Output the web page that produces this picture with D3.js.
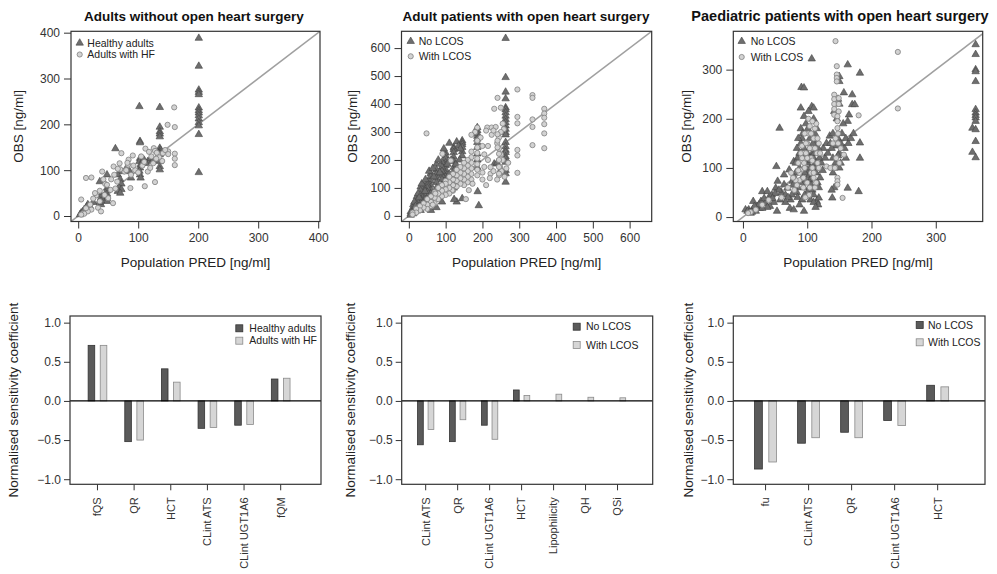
<!DOCTYPE html>
<html>
<head>
<meta charset="utf-8">
<script src="https://cdn.jsdelivr.net/npm/d3@7"></script>
<style>
    body { margin: 0; background: #fff; }
    svg { font-family: "Liberation Sans", Arial, sans-serif; }
</style>
</head>
<body>
<svg width="997" height="574"></svg>
<script>
// ---- scatter data [PRED, OBS]
const healthyAdults = [
    [201,388],[201,327],[201,275],[201,270],[201,265],[201,236],[201,230],[201,225],[201,219],[201,212],[201,204],[201,197],[201,178],[201,95],
    [102,239],[103,163],[103,160],[103,126],[102,119],[104,112],[103,105],[102,98],[103,90],[104,83],
    [136,237],[136,194],[136,184],[136,179],[136,173],[136,148],[137,144],[136,140],[135,137],[136,134],[136,119],[136,108],[136,101],
    [62,147],[116,119],[121,126],[125,122],[110,122],[113,115],[88,83],
    [72,97],[80,104],[86,97],[66,90],[70,80],[72,70],[68,62],[72,58],[66,54],[70,50],
    [48,90],[36,75],[48,61],[48,55],[48,48],[48,42],[48,38],[48,32],
    [38,46],[38,40],[38,33],[38,25],[36,30],
    [16,25],[14,20],[10,14],[5,7],[3,3],[8,10],[20,20],[25,30]
];
const adultsHF = [
    [160,237],[149,199],[161,194],[161,136],[161,125],[161,111],[150,141],[141,137],[133,134],[126,148],[122,130],[112,147],
    [118,140],[128,142],[131,138],[145,144],[107,110],[116,97],[128,74],[111,65],[87,61],[91,132],[84,123],[83,112],
    [69,115],[77,97],[72,137],[59,108],[40,97],[13,83],[22,84],[54,57],[58,28],[50,39],[44,46],[36,32],[33,18],[22,14],
    [5,36],[8,6],[16,10],[13,17],[38,10],[62,60],[65,75],[70,102],[95,100],[100,95],[105,130],[110,118],[88,90],[92,110],
    [80,100],[60,90],[55,80],[45,70],[30,45],[25,38],[20,25],[10,5],[5,3],[125,115],[120,105],[135,128],[140,120],
    [150,135],[130,125],[82,116],[66,103],[48,68],[42,80],[36,55],[28,50]
];
const adultNoLCOS = [
    [263,635],[263,495],[263,443],[263,419],[263,387],[263,380],[263,369],[263,357],[263,345],[263,334],[263,322],[263,310],
    [263,298],[263,290],[263,263],[263,248],[263,235],[263,227],[263,212],[263,204],[263,192],[263,163],[263,151],[263,121],
    [186,316],[186,305],[186,295],[186,285],[186,275],[186,263],[186,245],[186,222],[186,200],[186,174],[187,87],[190,37],
    [145,269],[145,262],[145,255],[145,245],[145,230],[145,215],[145,62],[130,50],[123,59],[232,186],[240,190],[250,165],
    [122,245],[122,238],[122,227],[122,210],[122,195],[122,174],[122,160],[122,145],[122,120],[122,100],
    [100,225],[100,215],[100,205],[100,190],[100,180],[100,165],[100,150],[100,140],[100,120],
    [90,192],[90,175],[90,160],[90,145],[90,130],[90,110],
    [75,185],[75,165],[75,150],[75,135],[75,120],[75,100],[75,80],
    [59,151],[59,140],[59,125],[59,110],[59,95],[59,80],[59,60],
    [50,121],[50,110],[50,100],[50,85],[50,70],[50,55],[50,40],
    [40,105],[40,95],[40,80],[40,65],[40,50],[40,35],
    [32,104],[32,90],[32,75],[32,60],[32,45],[32,30],[32,20],
    [22,70],[22,55],[22,40],[22,28],[22,18],[12,40],[12,30],[12,20],[12,12],[12,8],[5,15],[5,8],[5,3],
    [60,20],[75,30],[90,50],[15,50],[25,80],[35,115],[45,130],[55,160],[65,170],[80,200],[95,240],[110,260],[130,265],
    [135,250],[140,240],[115,200],[105,185],[68,140],[84,155],[28,65],[18,35],[44,88],[110,150],[128,185],[138,200]
];
const adultWithLCOS = [
    [48,295],[295,452],[336,432],[336,422],[368,383],[368,366],[368,351],[368,328],[368,295],[368,242],[336,345],[336,318],
    [336,253],[295,354],[295,331],[295,236],[295,216],[295,154],[241,422],[232,383],[250,387],[255,330],[258,310],[250,300],
    [245,280],[240,260],[245,240],[250,220],[255,200],[248,175],[252,160],[245,145],[240,130],
    [186,316],[213,316],[225,316],[236,318],[241,292],[241,269],[241,245],[245,222],[245,200],[245,175],[245,151],[222,174],
    [222,151],[215,200],[205,220],[200,250],[195,280],[180,300],[170,290],
    [186,269],[186,245],[186,225],[186,205],[186,185],[186,165],[186,145],[170,230],[170,210],[170,190],[170,170],[170,150],
    [170,130],[160,200],[160,180],[160,160],[160,140],[160,120],[150,190],[150,170],[150,150],[150,130],[150,110],[140,175],
    [140,155],[140,135],[140,115],[130,165],[130,145],[130,125],[130,105],[120,150],[120,130],[120,110],[120,90],[118,92],
    [110,140],[110,120],[110,100],[110,80],[100,125],[100,115],[100,95],[100,75],[91,222],[90,110],[90,90],[90,70],[80,100],
    [80,80],[80,60],[70,85],[70,65],[70,45],[60,70],[60,50],[60,35],[50,60],[50,40],[50,25],[40,45],[40,30],[30,35],[30,20],
    [20,25],[20,12],[10,12],[10,5],[114,198],[163,92],[173,115],[200,130],[210,110],[220,135],[230,160],[260,140],[265,170],
    [270,190],[200,155],[205,175],[215,250],[225,290],[230,305],[210,305],[155,60],[65,40],[72,80]
];
const paedNoLCOS = [
    [362,351],[362,331],[362,300],[362,296],[362,276],[362,219],[362,212],[362,207],[362,202],[362,195],[357,181],[362,178],
    [362,154],[357,132],[362,121],
    [107,322],[163,310],[182,293],[150,286],[150,276],[91,264],[95,263],[90,222],[107,225],[110,222],[157,253],[170,249],
    [170,229],[174,229],[57,181],[165,208],[163,195],[182,151],[182,120],[180,52],[163,59],[139,39],[53,12],[73,18],[79,15],
    [95,12],[115,32],[117,25],[118,39],
    [4,15],[9,15],[15,15],[16,32],[26,18],[28,32],[30,52],[38,52],[40,39],[51,59],[52,103],[54,73],[64,86],[64,66],[69,59],
    [72,96],[77,73],[79,113],
    [85,120],[88,100],[90,180],[92,160],[95,140],[97,125],[100,110],[100,95],[102,85],[104,75],[106,65],[108,55],[110,45],
    [110,200],[112,170],[114,150],[108,130],[105,115],[96,90],[92,80],[90,70],[86,60],[84,50],[82,90],[80,80],[98,190],
    [102,215],[95,205],[104,160],[106,140],[110,120],[112,100],[114,90],[116,70],[118,60],[120,80],[122,110],[125,140],
    [130,150],[135,165],[140,120],[142,100],[145,145],[148,160],[150,130],[152,110],[138,140],[140,170],[146,200],[142,215],
    [150,230],[148,240],[60,50],[66,45],[45,45],[48,30],[35,28],[22,22],[10,10],[7,12],[12,8],[20,12],[25,25],
    [85,40],[88,130],[90,150],[93,170],[95,60],[98,75],[100,130],[101,180],[103,120],[105,100],[107,80],[109,150],[111,130],
    [113,110],[115,180],[117,140],[119,120],[100,50],[96,45],[92,35],[88,25],[105,35],[110,30],[113,20],[82,110],[84,140],
    [86,160],[78,65],[76,45],[74,35],[70,40],[66,30],[58,35],[56,55],[50,48],[46,38],[42,22],[38,20],[33,38],[30,18],
    [18,22],[14,10],[124,95],[128,120],[132,130],[136,150],[140,90],[144,110],[148,125],[150,100],[152,150],[154,170],
    [156,190],[158,140],[160,160],[160,120],[164,150],[168,160],[172,170],[142,60],[138,55]
];
const paedWithLCOS = [
    [144,358],[241,336],[241,221],[146,307],[146,290],[146,283],[146,276],[142,249],[142,240],[142,230],[142,220],[142,208],
    [149,242],[149,230],[149,215],[147,205],[147,195],[147,181],[180,207],[157,127],[155,39],[147,80],[147,73],[147,66],
    [130,103],[136,100],[140,150],[144,160],[148,170],
    [90,95],[95,110],[98,130],[100,150],[102,170],[104,185],[106,120],[108,100],[110,80],[112,60],[100,70],[94,60],[88,75],
    [86,110],[108,140],[110,160],[112,180],[114,190],[115,130],[116,110],[96,170],[92,145],[84,65],[118,150],[106,90],
    [103,45],[97,40],[12,10],[8,8],[20,15],[30,25],[40,35],[70,60],[75,90],[80,55],[60,40],
    [88,90],[92,120],[96,100],[100,120],[104,140],[104,60],[106,170],[108,115],[110,90],[112,140],[114,70],[116,160],
    [118,100],[120,130],[98,150],[94,80],[90,130],[86,95],[82,75],[78,80],[102,200],[108,195],[150,110],[152,140],
    [148,150],[145,120],[143,100]
];

// ---- sensitivity data
const adultParams = ['fQS', 'QR', 'HCT', 'CLint ATS', 'CLint UGT1A6', 'fQM'];
const healthySens = [0.71, -0.52, 0.41, -0.35, -0.31, 0.28];
const hfSens = [0.71, -0.50, 0.24, -0.34, -0.30, 0.29];
const surgeryParams = ['CLint ATS', 'QR', 'CLint UGT1A6', 'HCT', 'Lipophilicity', 'QH', 'QSi'];
const surgeryNoLCOSSens = [-0.56, -0.52, -0.31, 0.14, 0, 0, 0];
const surgeryWithLCOSSens = [-0.365, -0.24, -0.49, 0.07, 0.086, 0.047, 0.04];
const paedParams = ['fu', 'CLint ATS', 'QR', 'CLint UGT1A6', 'HCT'];
const paedNoLCOSSens = [-0.87, -0.54, -0.40, -0.25, 0.20];
const paedWithLCOSSens = [-0.78, -0.47, -0.47, -0.315, 0.18];

const scatterTicks = [[0, 100, 200, 300, 400], [0, 100, 200, 300, 400, 500, 600], [0, 100, 200, 300]];
const sensTicks = [-1, -0.5, 0, 0.5, 1];

const svg = d3.select('svg');
const dark = '#5a5a5a', light = '#d6d6d6';

function styleAxis(sel) {
    sel.select('.domain').remove();
    sel.selectAll('.tick line').attr('stroke', '#333');
    sel.selectAll('.tick text').attr('fill', '#333').style('font-size', '12px');
}

function scatterPanel(p) {
    const [x0, x1, y0, y1] = p.box;
    const x = d3.scaleLinear().domain(p.xDom).range([x0, x1]);
    const y = d3.scaleLinear().domain(p.yDom).range([y1, y0]);
    const g = svg.append('g');

    g.append('clipPath').attr('id', 'clip' + p.key)
        .append('rect').attr('x', x0).attr('y', y0).attr('width', x1 - x0).attr('height', y1 - y0);

    const lo = Math.min(p.xDom[0], p.yDom[0]), hi = Math.max(p.xDom[1], p.yDom[1]);
    g.append('line')
        .attr('clip-path', `url(#clip${p.key})`)
        .attr('x1', x(lo)).attr('y1', y(lo)).attr('x2', x(hi)).attr('y2', y(hi))
        .attr('stroke', '#a0a0a0').attr('stroke-width', 1.5);

    const tri = d3.symbol(d3.symbolTriangle, 24);
    g.append('g').selectAll('path').data(p.tri).join('path')
        .attr('transform', d => `translate(${x(d[0])},${y(d[1])})`)
        .attr('d', tri)
        .attr('fill', '#6e6e6e').attr('stroke', '#444').attr('stroke-width', 0.6);
    g.append('g').selectAll('circle').data(p.circ).join('circle')
        .attr('cx', d => x(d[0])).attr('cy', d => y(d[1])).attr('r', 2.6)
        .attr('fill', '#d2d2d2').attr('stroke', '#808080').attr('stroke-width', 0.8);

    g.append('g').attr('transform', `translate(0,${y1})`)
        .call(d3.axisBottom(x).tickValues(p.ticks).tickSize(7).tickPadding(5).tickFormat(d3.format('d')))
        .call(styleAxis);
    g.append('g').attr('transform', `translate(${x0},0)`)
        .call(d3.axisLeft(y).tickValues(p.ticks).tickSize(7).tickPadding(4).tickFormat(d3.format('d')))
        .call(styleAxis);

    g.append('rect').attr('x', x0).attr('y', y0).attr('width', x1 - x0).attr('height', y1 - y0)
        .attr('fill', 'none').attr('stroke', '#333').attr('stroke-width', 1.2);

    g.append('text').attr('x', p.titleX).attr('y', 20.5).attr('text-anchor', 'middle')
        .style('font-size', p.titleSize).style('font-weight', 'bold').attr('fill', '#111').text(p.title);
    g.append('text').attr('x', (x0 + x1) / 2).attr('y', 267).attr('text-anchor', 'middle')
        .style('font-size', '13.5px').attr('fill', '#222').text('Population PRED [ng/ml]');
    g.append('text').attr('transform', `translate(${p.yLabX},${(y0 + y1) / 2}) rotate(-90)`)
        .attr('text-anchor', 'middle').attr('dy', '0.35em')
        .style('font-size', '13.5px').attr('fill', '#222').text('OBS [ng/ml]');

    const leg = g.append('g').style('font-size', '10.5px').attr('fill', '#222');
    leg.append('path').attr('transform', `translate(${p.leg[0]},${p.leg[1]})`).attr('d', tri)
        .attr('fill', '#6e6e6e').attr('stroke', '#444').attr('stroke-width', 0.6);
    leg.append('circle').attr('cx', p.leg[0]).attr('cy', p.leg[2]).attr('r', 2.6)
        .attr('fill', '#d2d2d2').attr('stroke', '#808080').attr('stroke-width', 0.8);
    leg.append('text').attr('x', p.leg[3]).attr('y', p.leg[1]).attr('dy', '0.35em').text(p.labels[0]);
    leg.append('text').attr('x', p.leg[3]).attr('y', p.leg[2]).attr('dy', '0.35em').text(p.labels[1]);
}

function barPanel(p) {
    const [x0, x1, y0, y1] = p.box;
    const n = p.cats.length;
    const step = (x1 - x0) / (n + 0.85);
    const x = d3.scaleBand().domain(p.cats).range([x0 + 0.25 * step, x0 + (n + 0.25) * step]);
    const inner = d3.scaleBand().domain([0, 1]).range([-0.255 * step, 0.255 * step]).paddingInner(0.4545);
    const y = d3.scaleLinear().domain([-1.065, 1.085]).range([y1, y0]);
    const g = svg.append('g');

    const rows = p.cats.flatMap((c, i) => [
        { cat: c, s: 0, v: p.a[i] },
        { cat: c, s: 1, v: p.b[i] }
    ]);
    g.append('g').selectAll('rect').data(rows).join('rect')
        .attr('x', d => x(d.cat) + x.bandwidth() / 2 + inner(d.s))
        .attr('width', inner.bandwidth())
        .attr('y', d => y(Math.max(0, d.v)))
        .attr('height', d => Math.abs(y(d.v) - y(0)))
        .attr('fill', d => d.s ? light : dark)
        .attr('stroke', d => d.s ? '#8a8a8a' : '#333').attr('stroke-width', 0.8);

    g.append('line').attr('x1', x0).attr('x2', x1).attr('y1', y(0)).attr('y2', y(0))
        .attr('stroke', '#000').attr('stroke-width', 1.3);

    g.append('g').attr('transform', `translate(${x0},0)`)
        .call(d3.axisLeft(y).tickValues(sensTicks).tickSize(6).tickPadding(3).tickFormat(d3.format('.1f')))
        .call(styleAxis);
    g.append('g').attr('transform', `translate(0,${y1})`)
        .call(d3.axisBottom(x).tickSize(6))
        .call(styleAxis)
        .selectAll('.tick text')
        .attr('transform', 'rotate(-90)')
        .attr('text-anchor', 'end')
        .attr('x', -13).attr('y', 0).attr('dy', '0.35em')
        .style('font-size', '11px');

    g.append('rect').attr('x', x0).attr('y', y0).attr('width', x1 - x0).attr('height', y1 - y0)
        .attr('fill', 'none').attr('stroke', '#333').attr('stroke-width', 1.2);

    g.append('text').attr('transform', `translate(${p.yLabX},${(y0 + y1) / 2}) rotate(-90)`)
        .attr('text-anchor', 'middle').attr('dy', '0.35em')
        .style('font-size', '13.5px').attr('fill', '#222').text('Normalised sensitivity coefficient');

    const leg = g.append('g').style('font-size', '10.5px').attr('fill', '#222');
    [p.leg[1], p.leg[2]].forEach((ly, i) => {
        leg.append('rect').attr('x', p.leg[0] - 3.5).attr('y', ly - 3.5).attr('width', 7).attr('height', 7)
            .attr('fill', i ? light : dark).attr('stroke', i ? '#8a8a8a' : '#333').attr('stroke-width', 0.8);
        leg.append('text').attr('x', p.leg[3]).attr('y', ly).attr('dy', '0.35em').text(p.labels[i]);
    });
}

scatterPanel({
    key: 1, box: [71, 320, 31.3, 221.5], xDom: [-12, 403], yDom: [-12, 403], ticks: scatterTicks[0],
    tri: healthyAdults, circ: adultsHF, title: 'Adults without open heart surgery', titleX: 194, titleSize: '13.5px',
    labels: ['Healthy adults', 'Adults with HF'], leg: [79.7, 43, 54.5, 87.3], yLabX: 18
});
scatterPanel({
    key: 2, box: [401.5, 651.7, 31.3, 221.5], xDom: [-20, 660], yDom: [-20, 660], ticks: scatterTicks[1],
    tri: adultNoLCOS, circ: adultWithLCOS, title: 'Adult patients with open heart surgery', titleX: 526, titleSize: '13.5px',
    labels: ['No LCOS', 'With LCOS'], leg: [410.7, 41.3, 56.3, 418.7], yLabX: 352
});
scatterPanel({
    key: 3, box: [733.3, 982.7, 31.3, 221.5], xDom: [-15, 373], yDom: [-9, 378], ticks: scatterTicks[2],
    tri: paedNoLCOS, circ: paedWithLCOS, title: 'Paediatric patients with open heart surgery', titleX: 840, titleSize: '14.5px',
    labels: ['No LCOS', 'With LCOS'], leg: [741.7, 41.3, 57, 750.7], yLabX: 686
});

barPanel({
    box: [70, 321, 316, 484.3], cats: adultParams, a: healthySens, b: hfSens,
    labels: ['Healthy adults', 'Adults with HF'], leg: [239.3, 328.3, 340.7, 249.3], yLabX: 13
});
barPanel({
    box: [401.7, 652.7, 316, 484.3], cats: surgeryParams, a: surgeryNoLCOSSens, b: surgeryWithLCOSSens,
    labels: ['No LCOS', 'With LCOS'], leg: [576.7, 326.7, 345, 586], yLabX: 350
});
barPanel({
    box: [733.3, 985, 316, 484.3], cats: paedParams, a: paedNoLCOSSens, b: paedWithLCOSSens,
    labels: ['No LCOS', 'With LCOS'], leg: [919.7, 325, 342.3, 928], yLabX: 688
});
</script>
</body>
</html>
